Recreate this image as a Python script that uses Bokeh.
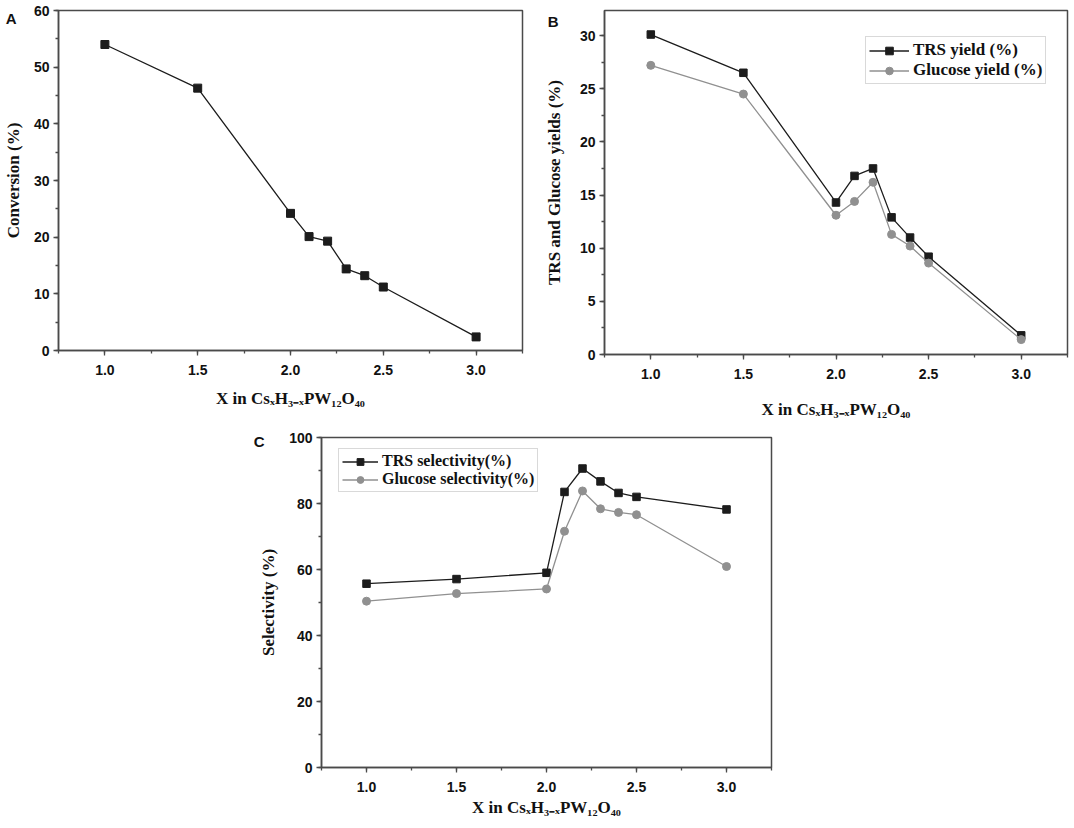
from bokeh.plotting import figure
from bokeh.models import (Range1d, SingleIntervalTicker, NumeralTickFormatter,
                          LinearAxis, FixedTicker, Spacer)
from bokeh.layouts import row, column
from bokeh.embed import file_html
from bokeh.resources import INLINE

# ---- data ----
x_vals = [1.0, 1.5, 2.0, 2.1, 2.2, 2.3, 2.4, 2.5, 3.0]
conversion = [54.0, 46.3, 24.2, 20.1, 19.3, 14.4, 13.2, 11.2, 2.4]
trs_yield = [30.1, 26.5, 14.3, 16.8, 17.5, 12.9, 11.0, 9.2, 1.8]
glucose_yield = [27.2, 24.5, 13.1, 14.4, 16.2, 11.3, 10.2, 8.6, 1.4]
trs_sel = [55.7, 57.1, 59.0, 83.5, 90.6, 86.7, 83.2, 82.0, 78.2]
glucose_sel = [50.4, 52.7, 54.1, 71.6, 83.8, 78.4, 77.3, 76.6, 60.9]

x_label = "X in CsₓH₃₋ₓPW₁₂O₄₀"

BLACK = "#1c1c1c"
GRAY = "#909090"
AXC = "#4a4a4a"
SERIF = "Liberation Serif"
SANS = "Liberation Sans"


def make_fig(frame_w, frame_h, borders, y_end, y_int, ylab, x_lab_stand, y_lab_stand):
    bt, br, bb, bl = borders
    p = figure(frame_width=frame_w, frame_height=frame_h,
               min_border_top=bt, min_border_right=br,
               min_border_bottom=bb, min_border_left=bl,
               x_range=Range1d(0.75, 3.25), y_range=Range1d(0, y_end),
               output_backend="svg", toolbar_location=None)
    p.xgrid.visible = False
    p.ygrid.visible = False
    p.background_fill_color = "white"
    p.border_fill_color = "white"
    p.outline_line_color = AXC
    p.outline_line_width = 1.5
    p.xaxis.ticker = SingleIntervalTicker(interval=0.5, num_minor_ticks=2)
    p.xaxis.formatter = NumeralTickFormatter(format="0.0")
    p.yaxis.ticker = SingleIntervalTicker(interval=y_int, num_minor_ticks=2)
    for ax in (p.xaxis[0], p.yaxis[0]):
        ax.axis_line_color = AXC
        ax.axis_line_width = 1.5
        ax.major_tick_line_color = AXC
        ax.minor_tick_line_color = AXC
        ax.major_tick_line_width = 1.3
        ax.minor_tick_line_width = 1.3
        ax.major_tick_in = 0
        ax.major_tick_out = 5
        ax.minor_tick_in = 0
        ax.minor_tick_out = 3
        ax.major_label_text_font = SANS
        ax.major_label_text_font_style = "bold"
        ax.major_label_text_font_size = "14px"
        ax.major_label_text_color = "#111111"
        ax.axis_label_text_font = SERIF
        ax.axis_label_text_font_style = "bold"
        ax.axis_label_text_font_size = "17px"
        ax.axis_label_text_color = "#111111"
    p.xaxis.major_label_standoff = 9
    p.yaxis.major_label_standoff = 4
    p.xaxis.axis_label = x_label
    p.yaxis.axis_label = ylab
    p.xaxis.axis_label_standoff = x_lab_stand
    p.yaxis.axis_label_standoff = y_lab_stand
    return p


def panel_letter(p, text, y, standoff):
    # an outer left axis with a single tick label carries the panel letter
    ax = LinearAxis(ticker=FixedTicker(ticks=[y], minor_ticks=[]),
                    major_label_overrides={y: text},
                    axis_line_color=None, major_tick_line_color=None,
                    minor_tick_line_color=None,
                    major_tick_in=0, major_tick_out=0,
                    minor_tick_in=0, minor_tick_out=0,
                    major_label_standoff=standoff,
                    major_label_text_font=SANS,
                    major_label_text_font_style="bold",
                    major_label_text_font_size="15px",
                    major_label_text_color="#111111")
    p.add_layout(ax, "left")


def style_legend(p, loc, gw, fs, lh):
    lg = p.legend[0]
    lg.location = loc
    lg.label_text_font = SERIF
    lg.label_text_font_style = "bold"
    lg.label_text_font_size = fs
    lg.label_text_color = "#111111"
    lg.glyph_width = gw
    lg.glyph_height = lh
    lg.label_height = lh
    lg.label_standoff = 4
    lg.padding = 3
    lg.spacing = 0
    lg.margin = 0
    lg.border_line_color = "#b4b4b4"
    lg.border_line_width = 1
    lg.background_fill_color = "white"
    lg.background_fill_alpha = 1.0


# ---- panel A ----
pa = make_fig(464, 340, (10, 19, 69, 57), 60, 10, "Conversion (%)", 11, 8)
pa.line(x_vals, conversion, line_color=BLACK, line_width=1.3)
pa.scatter(x_vals, conversion, marker="square", size=8, fill_color=BLACK, line_color=BLACK)
panel_letter(pa, "A", 58.6, -16)

# ---- panel B ----
pb = make_fig(463, 344, (7, 4, 69, 61), 32.36, 5, "TRS and Glucose yields (%)", 18, 13)
pb.line(x_vals, trs_yield, line_color=BLACK, line_width=1.3, legend_label="TRS yield (%)")
pb.scatter(x_vals, trs_yield, marker="square", size=7.5, fill_color=BLACK, line_color=BLACK,
           legend_label="TRS yield (%)")
pb.line(x_vals, glucose_yield, line_color=GRAY, line_width=1.3, legend_label="Glucose yield (%)")
pb.scatter(x_vals, glucose_yield, marker="circle", size=8, fill_color=GRAY, line_color=GRAY,
           legend_label="Glucose yield (%)")
style_legend(pb, (261, 270), 40, "17px", 19)
panel_letter(pb, "B", 31.3, -17)

# ---- panel C ----
pc = make_fig(450, 330, (17, 10, 58, 70), 100, 20, "Selectivity (%)", 3, 8)
pc.line(x_vals, trs_sel, line_color=BLACK, line_width=1.3, legend_label="TRS selectivity(%)")
pc.scatter(x_vals, trs_sel, marker="square", size=7.5, fill_color=BLACK, line_color=BLACK,
           legend_label="TRS selectivity(%)")
pc.line(x_vals, glucose_sel, line_color=GRAY, line_width=1.3, legend_label="Glucose selectivity(%)")
pc.scatter(x_vals, glucose_sel, marker="circle", size=8, fill_color=GRAY, line_color=GRAY,
           legend_label="Glucose selectivity(%)")
style_legend(pc, (17, 275), 36, "16px", 17)
panel_letter(pc, "C", 98.8, -8)

layout = column(row(pa, pb), row(Spacer(width=250, height=10), pc))

open("out.html", "w").write(file_html(layout, INLINE))
